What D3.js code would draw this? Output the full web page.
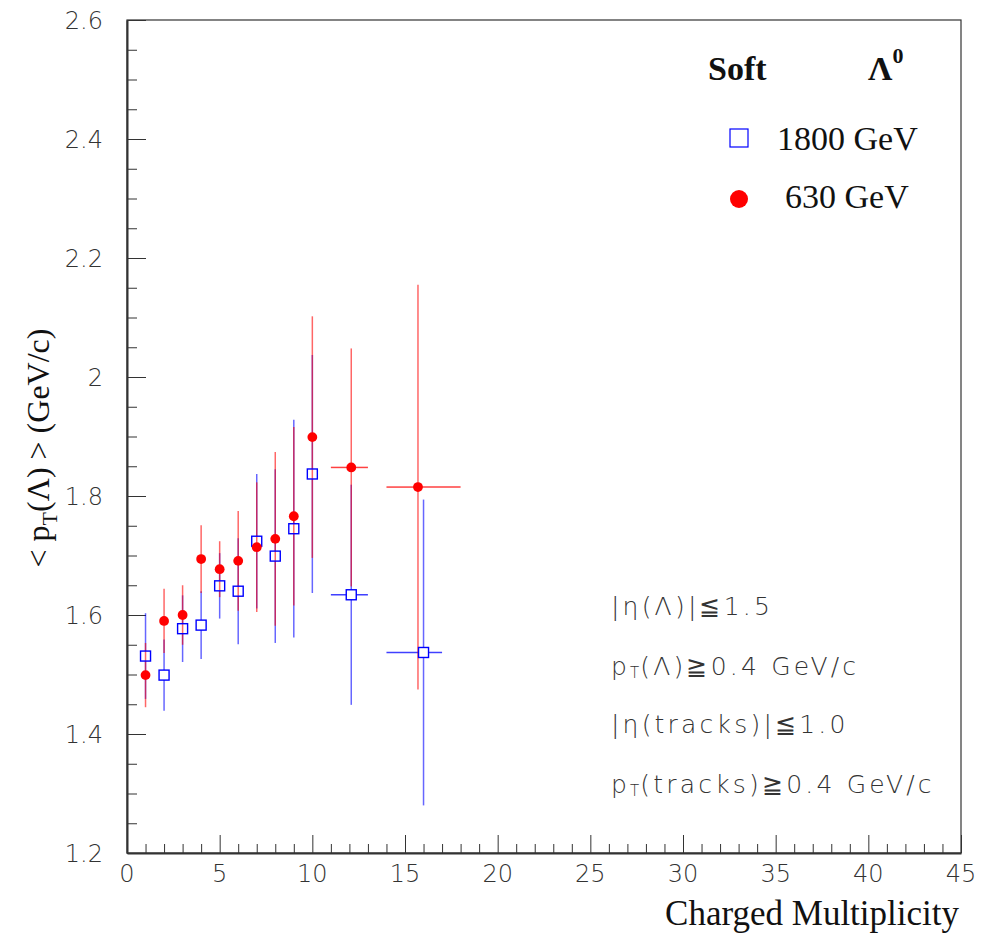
<!DOCTYPE html>
<html>
<head>
<meta charset="utf-8">
<script src="https://cdn.jsdelivr.net/npm/d3@7"></script>
<style>
  html, body { margin: 0; padding: 0; background: #fff; }
  svg { display: block; }
</style>
</head>
<body>
<svg id="chart" width="981" height="935"></svg>
<script>
// ---- data ----
const x1800    = [1, 2, 3, 4, 5, 6, 7, 8, 9, 10, 12.1, 16];
const y1800    = [1.531, 1.499, 1.577, 1.583, 1.649, 1.640, 1.724, 1.699, 1.745, 1.837, 1.634, 1.537];
const ey1800   = [0.072, 0.060, 0.056, 0.057, 0.055, 0.089, 0.113, 0.146, 0.183, 0.200, 0.185, 0.257];
const xlo1800  = [1, 2, 3, 4, 5, 6, 7, 8, 9, 10, 11, 14];
const xhi1800  = [1, 2, 3, 4, 5, 6, 7, 8, 9, 10, 13, 17];

const x630     = [1, 2, 3, 4, 5, 6, 7, 8, 9, 10, 12.1, 15.7];
const y630     = [1.499, 1.590, 1.600, 1.694, 1.677, 1.691, 1.714, 1.728, 1.766, 1.899, 1.848, 1.815];
const ey630    = [0.054, 0.054, 0.050, 0.057, 0.047, 0.084, 0.109, 0.146, 0.150, 0.203, 0.200, 0.340];
const xlo630   = [1, 2, 3, 4, 5, 6, 7, 8, 9, 10, 11, 14];
const xhi630   = [1, 2, 3, 4, 5, 6, 7, 8, 9, 10, 13, 18];

const xTicks = [0, 5, 10, 15, 20, 25, 30, 35, 40, 45];
const yTicks = [1.2, 1.4, 1.6, 1.8, 2.0, 2.2, 2.4, 2.6];
const legendLabels = ["1800 GeV", "630 GeV"];
// each annotation: list of [text, style] pieces; style: "n" normal, "s" subscript
const cutLines = [
  [["|η(Λ)|≦1.5", "n"]],
  [["p", "n"], ["T", "s"], ["(Λ)≧0.4 GeV/c", "n"]],
  [["|η(tracks)|≦1.0", "n"]],
  [["p", "n"], ["T", "s"], ["(tracks)≧0.4 GeV/c", "n"]]
];

// ---- layout ----
const svg = d3.select("#chart");
const L = 127, R = 961, T = 20, B = 853;
const x = d3.scaleLinear().domain([0, 45]).range([L, R]);
const y = d3.scaleLinear().domain([1.2, 2.6]).range([B, T]);
const axisColor = "#333";
const tickFont = "'DejaVu Sans', sans-serif";
const serif = "'Liberation Serif', 'Times New Roman', serif";

// frame
svg.append("rect").attr("x", L).attr("y", T).attr("width", R - L).attr("height", B - T)
  .attr("fill", "none").attr("stroke", axisColor).attr("stroke-width", 1.2);

// x axis
const xAxis = d3.axisBottom(x).tickValues(d3.range(0, 46, 1)).tickSize(0).tickFormat("");
const gx = svg.append("g").attr("transform", `translate(0,${B})`).call(xAxis);
gx.select(".domain").attr("stroke", axisColor).attr("stroke-width", 2);
gx.selectAll(".tick line").remove();
gx.selectAll(".tick").append("line")
  .attr("x1", 0).attr("x2", 0).attr("y1", 0)
  .attr("y2", d => (d % 5 === 0 ? -18 : -9))
  .attr("stroke", axisColor).attr("stroke-width", 1);
svg.append("g").selectAll("text").data(xTicks).join("text")
  .attr("x", d => x(d)).attr("y", 882)
  .attr("text-anchor", "middle")
  .attr("font-family", tickFont).attr("font-weight", 200)
  .attr("font-size", 24).attr("fill", "#333")
  .text(d => d);

// y axis
const yAxis = d3.axisLeft(y).tickValues(d3.range(0, 29).map(i => 1.2 + i * 0.05)).tickSize(0).tickFormat("");
const gy = svg.append("g").attr("transform", `translate(${L},0)`).call(yAxis);
gy.select(".domain").attr("stroke", axisColor).attr("stroke-width", 2);
gy.selectAll(".tick line").remove();
gy.selectAll(".tick").append("line")
  .attr("y1", 0).attr("y2", 0).attr("x1", 0)
  .attr("x2", (d, i) => (i % 4 === 0 ? 19 : 10))
  .attr("stroke", axisColor).attr("stroke-width", 1);
svg.append("g").selectAll("text").data(yTicks).join("text")
  .attr("x", 103).attr("y", d => y(d) + 9)
  .attr("text-anchor", "end")
  .attr("font-family", tickFont).attr("font-weight", 200)
  .attr("font-size", 24).attr("fill", "#333")
  .text(d => (d === 2 ? "2" : d3.format(".1f")(d)));

// axis titles
svg.append("text").attr("x", 959).attr("y", 925).attr("text-anchor", "end")
  .attr("font-family", serif).attr("font-size", 35).attr("fill", "#111")
  .text("Charged Multiplicity");

const yt = svg.append("text")
  .attr("transform", "translate(49,448) rotate(-90)")
  .attr("text-anchor", "middle")
  .attr("font-family", serif).attr("font-size", 32).attr("fill", "#111");
yt.append("tspan").text("< p");
yt.append("tspan").attr("font-size", 22).attr("dy", 8).text("T");
yt.append("tspan").attr("dy", -8).text("(Λ) >  (GeV/c)");

// ---- data drawing ----
function drawSeries(xs, ys, eys, xlo, xhi, color, gap) {
  const g = svg.append("g");
  const idx = d3.range(xs.length);
  g.selectAll("line.up").data(idx).join("line")
    .attr("x1", i => x(xs[i])).attr("x2", i => x(xs[i]))
    .attr("y1", i => y(ys[i]) - gap).attr("y2", i => y(ys[i] + eys[i]))
    .attr("stroke", color).attr("stroke-width", 1.5).attr("stroke-opacity", 0.6);
  g.selectAll("line.dn").data(idx).join("line")
    .attr("x1", i => x(xs[i])).attr("x2", i => x(xs[i]))
    .attr("y1", i => y(ys[i]) + gap).attr("y2", i => y(ys[i] - eys[i]))
    .attr("stroke", color).attr("stroke-width", 1.5).attr("stroke-opacity", 0.6);
  const hIdx = idx.filter(i => xhi[i] > xlo[i]);
  g.selectAll("line.hl").data(hIdx).join("line")
    .attr("x1", i => x(xlo[i])).attr("x2", i => x(xs[i]) - gap)
    .attr("y1", i => y(ys[i])).attr("y2", i => y(ys[i]))
    .attr("stroke", color).attr("stroke-width", 1.5).attr("stroke-opacity", 0.75);
  g.selectAll("line.hr").data(hIdx).join("line")
    .attr("x1", i => x(xs[i]) + gap).attr("x2", i => x(xhi[i]))
    .attr("y1", i => y(ys[i])).attr("y2", i => y(ys[i]))
    .attr("stroke", color).attr("stroke-width", 1.5).attr("stroke-opacity", 0.75);
  return g;
}

drawSeries(x1800, y1800, ey1800, xlo1800, xhi1800, "#0000ff", 5);
drawSeries(x630, y630, ey630, xlo630, xhi630, "#ff0000", 4);

// markers
svg.append("g").selectAll("rect").data(d3.range(x1800.length)).join("rect")
  .attr("x", i => x(x1800[i]) - 5).attr("y", i => y(y1800[i]) - 5)
  .attr("width", 10).attr("height", 10)
  .attr("fill", "none").attr("stroke", "#0000ff").attr("stroke-width", 1.4);
svg.append("g").selectAll("circle").data(d3.range(x630.length)).join("circle")
  .attr("cx", i => x(x630[i])).attr("cy", i => y(y630[i])).attr("r", 4.9)
  .attr("fill", "#ff0000");

// ---- legend ----
svg.append("text").attr("x", 708).attr("y", 80)
  .attr("font-family", serif).attr("font-weight", "bold").attr("font-size", 34).attr("fill", "#111")
  .text("Soft");
const lam = svg.append("text").attr("x", 868).attr("y", 80)
  .attr("font-family", serif).attr("font-weight", "bold").attr("font-size", 34).attr("fill", "#111");
lam.append("tspan").text("Λ");
lam.append("tspan").attr("font-size", 22).attr("dy", -17).text("0");

svg.append("rect").attr("x", 730).attr("y", 129).attr("width", 18).attr("height", 18)
  .attr("fill", "none").attr("stroke", "#0000ff").attr("stroke-width", 1.2);
svg.append("text").attr("x", 777).attr("y", 150)
  .attr("font-family", serif).attr("font-size", 34).attr("fill", "#111")
  .text(legendLabels[0]);
svg.append("circle").attr("cx", 739).attr("cy", 199).attr("r", 9).attr("fill", "#ff0000");
svg.append("text").attr("x", 785).attr("y", 208)
  .attr("font-family", serif).attr("font-size", 34).attr("fill", "#111")
  .text(legendLabels[1]);

// ---- cut annotations ----
const baselines = [615, 675, 733, 793];
cutLines.forEach((pieces, i) => {
  const t = svg.append("text").attr("x", 611).attr("y", baselines[i])
    .attr("font-family", tickFont).attr("font-weight", 200)
    .attr("font-size", 25).attr("letter-spacing", 3.2).attr("fill", "#333");
  let shifted = 0;
  pieces.forEach(([txt, st]) => {
    const ts = t.append("tspan").text(txt);
    if (st === "s") {
      ts.attr("font-size", 15).attr("dy", 3).attr("letter-spacing", 1); shifted = 3;
    } else if (shifted) {
      ts.attr("dy", -shifted); shifted = 0;
    }
  });
});
</script>
</body>
</html>
